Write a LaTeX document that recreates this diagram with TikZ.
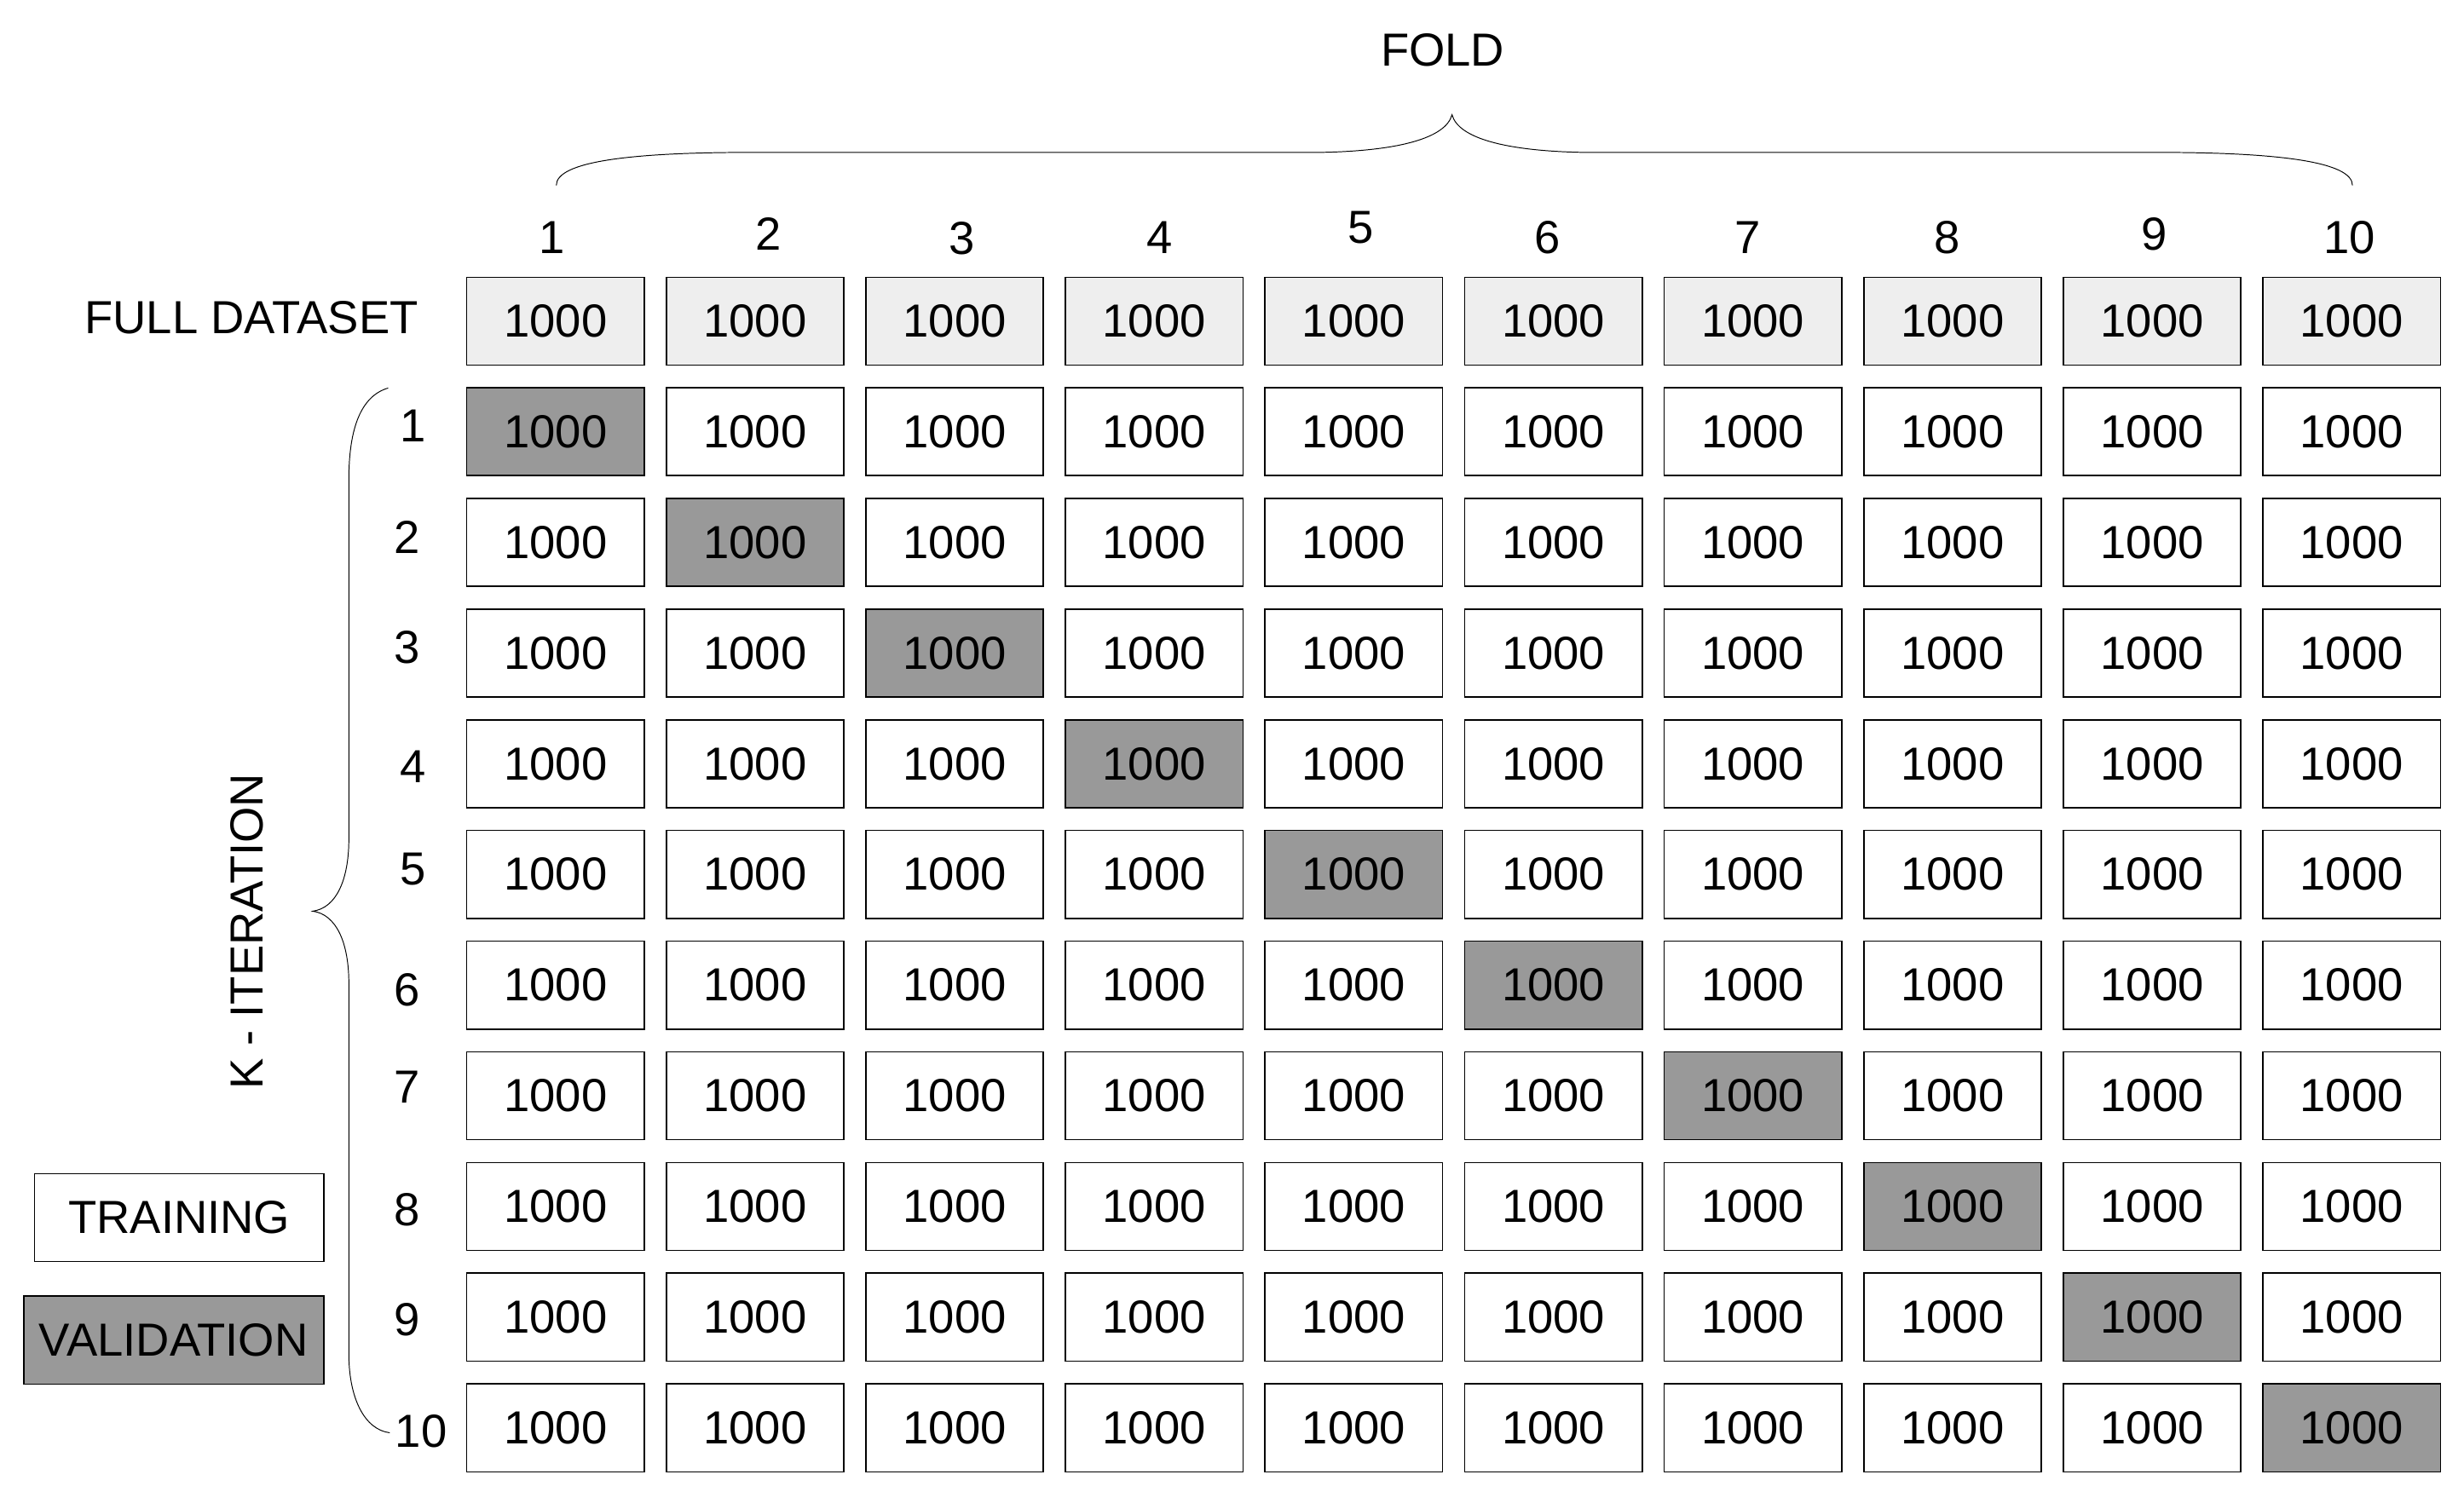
\documentclass[tikz,border=0pt]{standalone}
\usepackage{fontspec}
\setmainfont{Liberation Sans}
\definecolor{fullgray}{HTML}{EEEEEE}
\definecolor{valgray}{HTML}{999999}
\tikzset{
  lbl/.style={inner sep=0pt, font=\fontsize{16.8}{20}\selectfont},
  cell/.style={lbl, draw, line width=0.5pt, minimum width=2.26cm, minimum height=1.12cm},
  brace/.style={line width=0.3pt}
}

\begin{document}
\begin{tikzpicture}[x=0.02cm,y=-0.02cm]
    \useasboundingbox (0,0) rectangle (1568,960);

    \node[lbl] (fold) at (918,32) {FOLD};
    \node[lbl] (full) at (160,202) {FULL DATASET};
    \node[lbl, rotate=90] (kiter) at (157,593) {K - ITERATION};

    \foreach \c/\cx/\cy in {1/351/151, 2/489/149, 3/612/152, 4/738/151, 5/866/145,
                            6/985/151, 7/1112/151, 8/1239/151, 9/1371/149, 10/1495/151}
        \node[lbl] (col\c) at (\cx,\cy) {\c};

    \foreach \c in {1,...,10}
        \node[cell, fill=fullgray] (f\c) at ({353.5+(\c-1)*127},204.5) {1000};

    \foreach \r/\rx/\ry in {1/263/271, 2/259/342, 3/259/412, 4/263/488, 5/263/553,
                            6/259/630, 7/259/692, 8/259/770, 9/259/840, 10/268/911} {
        \node[lbl] (row\r) at (\rx,\ry) {\r};
        \foreach \c in {1,...,10} {
            \ifnum\c=\r \def\cellfill{valgray}\else\def\cellfill{white}\fi
            \node[cell, fill=\cellfill] (c\r-\c) at ({353.5+(\c-1)*127},{274.8+(\r-1)*70.45}) {1000};
        }
    }

    \node[cell, minimum width=3.68cm] (train) at (114,775) {TRAINING};
    \node[cell, fill=valgray, minimum width=3.82cm] (valid) at (110.5,853) {VALIDATION};

    \draw[brace] (354,118) .. controls (354,103) and (400,97) .. (478,97) -- (841,97)
        .. controls (890,96) and (920,88) .. (924,73)
        .. controls (928,88) and (958,96) .. (1007,97) -- (1373,97)
        .. controls (1450,97) and (1497,103) .. (1497,118);

    \draw[brace] (247,247) .. controls (230,252) and (222,272) .. (222,305) -- (222,534)
        .. controls (222,560) and (214,578) .. (199,580)
        .. controls (214,582) and (222,600) .. (222,626) -- (222,862)
        .. controls (222,890) and (232,910) .. (248,912);
\end{tikzpicture}
\end{document}
